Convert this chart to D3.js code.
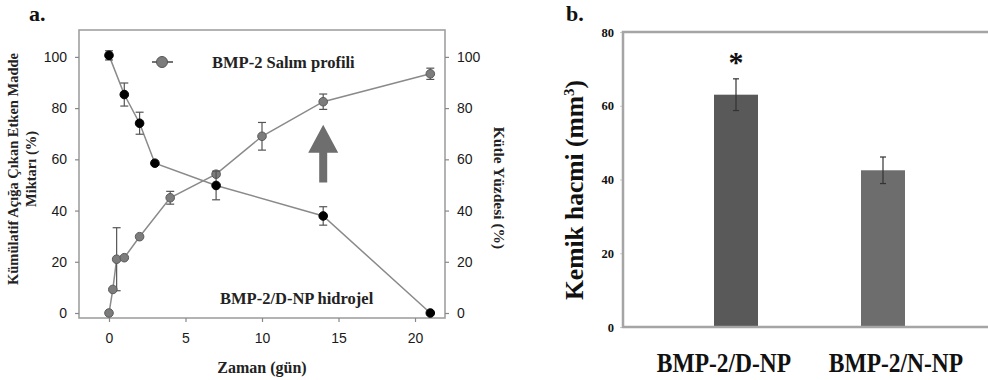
<!DOCTYPE html>
<html>
<head>
<meta charset="utf-8">
<script src="https://cdn.jsdelivr.net/npm/d3@7"></script>
<style>
  body { margin: 0; background: #fff; }
  svg { display: block; }
  .serif { font-family: "Liberation Serif", "Times New Roman", serif; font-weight: bold; }
  .sans { font-family: "Liberation Sans", Arial, sans-serif; }
</style>
</head>
<body>
<div id="chart"></div>
<script>
// panel a: BMP-2 release and hydrogel mass
const releaseDays = [0, 0.25, 0.5, 1, 2, 4, 7, 10, 14, 21];
const releaseVals = [0, 9.2, 21, 21.6, 29.8, 45, 54.2, 69, 82.5, 93.4];
const releaseErr  = [0, 0, 12.3, 0, 0, 2.5, 0.8, 5.4, 3, 2.2];

const massDays = [0, 1, 2, 3, 7, 14, 21];
const massVals = [100.6, 85.3, 74.1, 58.5, 49.8, 37.9, 0];
const massErr  = [1.8, 4.5, 4.3, 0, 5.6, 3.6, 0];

const dayTicks = [0, 5, 10, 15, 20];
const pctTicks = [0, 20, 40, 60, 80, 100];

// panel b: bone volume
const groups = ["BMP-2/D-NP", "BMP-2/N-NP"];
const boneVals = [63, 42.5];
const boneErr = [4.3, 3.6];
const boneTicks = [0, 20, 40, 60, 80];

const W = 988, H = 380;
const svg = d3.select("#chart").append("svg")
    .attr("width", W)
    .attr("height", H);

// ---------- panel a ----------
let x = d3.scaleLinear().domain([-1.96, 21.96]).range([79, 445]);
let y = d3.scaleLinear().domain([-1.95, 110.5]).range([318, 30]);

let axisColor = "#a0a0a0";
let lineColor = "#8a8a8a";

let ga = svg.append("g");

// frame
ga.append("rect")
    .attr("x", x.range()[0]).attr("y", y.range()[1])
    .attr("width", x.range()[1] - x.range()[0])
    .attr("height", y.range()[0] - y.range()[1])
    .attr("fill", "none").attr("stroke", axisColor).attr("stroke-width", 1.6);

let styleAxis = function(g) {
  g.select(".domain").remove();
  g.selectAll(".tick line").attr("stroke", "#888").attr("stroke-width", 1.2);
  g.selectAll(".tick text")
    .attr("class", "sans")
    .attr("font-size", 14)
    .attr("fill", "#1a1a1a");
};

ga.append("g")
    .attr("transform", "translate(" + x.range()[0] + ",0)")
    .call(d3.axisLeft(y).tickValues(pctTicks).tickSize(4).tickPadding(8))
    .call(styleAxis);

ga.append("g")
    .attr("transform", "translate(" + x.range()[1] + ",0)")
    .call(d3.axisRight(y).tickValues(pctTicks).tickSize(4).tickPadding(8))
    .call(styleAxis);

ga.append("g")
    .attr("transform", "translate(0," + y.range()[0] + ")")
    .call(d3.axisBottom(x).tickValues(dayTicks).tickSize(4).tickPadding(11))
    .call(styleAxis);

let line = d3.line().x(d => x(d[0])).y(d => y(d[1]));

function series(days, vals, errs, fill, stroke) {
  let pts = days.map((d, i) => [d, vals[i], errs[i]]);
  ga.append("path")
    .datum(pts)
    .attr("d", line)
    .attr("fill", "none")
    .attr("stroke", lineColor)
    .attr("stroke-width", 1.5);

  let eb = ga.append("g").selectAll("g")
    .data(pts.filter(p => p[2] > 0))
    .enter().append("g")
    .attr("stroke", "#555").attr("stroke-width", 1.2);
  eb.append("line")
    .attr("x1", d => x(d[0])).attr("x2", d => x(d[0]))
    .attr("y1", d => y(d[1] - d[2])).attr("y2", d => y(d[1] + d[2]));
  eb.append("line")
    .attr("x1", d => x(d[0]) - 4).attr("x2", d => x(d[0]) + 4)
    .attr("y1", d => y(d[1] + d[2])).attr("y2", d => y(d[1] + d[2]));
  eb.append("line")
    .attr("x1", d => x(d[0]) - 4).attr("x2", d => x(d[0]) + 4)
    .attr("y1", d => y(d[1] - d[2])).attr("y2", d => y(d[1] - d[2]));

  ga.append("g").selectAll("circle")
    .data(pts)
    .enter().append("circle")
    .attr("cx", d => x(d[0]))
    .attr("cy", d => y(d[1]))
    .attr("r", 4.3)
    .attr("fill", fill)
    .attr("stroke", stroke)
    .attr("stroke-width", 1);
}

series(releaseDays, releaseVals, releaseErr, "#7c7c7c", "#5a5a5a");
series(massDays, massVals, massErr, "#000", "#000");

// legend
ga.append("line")
    .attr("x1", 152).attr("x2", 173).attr("y1", 62).attr("y2", 62)
    .attr("stroke", "#444").attr("stroke-width", 1.5);
ga.append("circle")
    .attr("cx", 162).attr("cy", 62).attr("r", 5.5)
    .attr("fill", "#7c7c7c").attr("stroke", "#555");
ga.append("text").attr("class", "serif")
    .attr("x", 212).attr("y", 67.5)
    .attr("font-size", 16.5).attr("fill", "#222")
    .text("BMP-2 Salım profili");

ga.append("text").attr("class", "serif")
    .attr("x", 220).attr("y", 304)
    .attr("font-size", 16.5).attr("fill", "#222")
    .text("BMP-2/D-NP hidrojel");

// arrow
let ax = x(14), aBot = y(51), aTop = y(73.5);
ga.append("path")
    .attr("d", "M" + (ax - 4) + "," + aBot + "V" + (aTop + 28) + "H" + (ax - 15) +
      "L" + ax + "," + aTop + "L" + (ax + 15) + "," + (aTop + 28) + "H" + (ax + 4) + "V" + aBot + "Z")
    .attr("fill", "#6e6e6e");

// titles
ga.append("text").attr("class", "serif")
    .attr("transform", "translate(18,169) rotate(-90)")
    .attr("text-anchor", "middle").attr("font-size", 14.5).attr("fill", "#222")
    .text("Kümülatif Açığa Çıkan Etken Madde");
ga.append("text").attr("class", "serif")
    .attr("transform", "translate(36,169) rotate(-90)")
    .attr("text-anchor", "middle").attr("font-size", 14.5).attr("fill", "#222")
    .text("Miktarı (%)");
ga.append("text").attr("class", "serif")
    .attr("transform", "translate(494,188) rotate(90)")
    .attr("text-anchor", "middle").attr("font-size", 15.5).attr("fill", "#222")
    .text("Kütle Yüzdesi (%)");
ga.append("text").attr("class", "serif")
    .attr("x", 262).attr("y", 373)
    .attr("text-anchor", "middle").attr("font-size", 16).attr("fill", "#222")
    .text("Zaman (gün)");
ga.append("text").attr("class", "serif")
    .attr("x", 29).attr("y", 21)
    .attr("font-size", 22).attr("fill", "#111")
    .text("a.");

// ---------- panel b ----------
let xb = d3.scalePoint().domain(groups).range([736, 883]);
let yb = d3.scaleLinear().domain([0, 80]).range([327, 32]);
let barW = 44;
let labelShift = [-12, 13];
let gb = svg.append("g");

gb.append("g")
    .attr("transform", "translate(623,0)")
    .call(d3.axisLeft(yb).tickValues(boneTicks).tickSize(3).tickPadding(6))
    .call(g => {
      g.select(".domain").remove();
      g.selectAll(".tick line").attr("stroke", "#ccc");
      g.selectAll(".tick text").attr("class", "serif").attr("font-size", 12.5).attr("fill", "#111");
    });

gb.selectAll("rect.bar")
    .data(groups)
    .enter().append("rect")
    .attr("class", "bar")
    .attr("x", d => xb(d) - barW / 2)
    .attr("y", (d, i) => yb(boneVals[i]))
    .attr("width", barW)
    .attr("height", (d, i) => yb(0) - yb(boneVals[i]))
    .attr("fill", (d, i) => i === 0 ? "#595959" : "#6d6d6d");

let eg = gb.selectAll("g.err")
    .data(groups)
    .enter().append("g")
    .attr("class", "err")
    .attr("stroke", "#333").attr("stroke-width", 1.2);
eg.append("line")
    .attr("x1", d => xb(d)).attr("x2", d => xb(d))
    .attr("y1", (d, i) => yb(boneVals[i] - boneErr[i]))
    .attr("y2", (d, i) => yb(boneVals[i] + boneErr[i]));
eg.append("line")
    .attr("x1", d => xb(d) - 3).attr("x2", d => xb(d) + 3)
    .attr("y1", (d, i) => yb(boneVals[i] + boneErr[i]))
    .attr("y2", (d, i) => yb(boneVals[i] + boneErr[i]));
eg.append("line")
    .attr("x1", d => xb(d) - 3).attr("x2", d => xb(d) + 3)
    .attr("y1", (d, i) => yb(boneVals[i] - boneErr[i]))
    .attr("y2", (d, i) => yb(boneVals[i] - boneErr[i]));

// axis frame lines (left, bottom, top)
gb.append("path")
    .attr("d", "M" + W + "," + yb(80) + "H623V" + yb(0) + "H" + W)
    .attr("fill", "none").attr("stroke", "#a5a5a5").attr("stroke-width", 2.5);

gb.append("text").attr("class", "serif")
    .attr("x", xb(groups[0])).attr("y", yb(73.2) + 15)
    .attr("text-anchor", "middle").attr("font-size", 30).attr("fill", "#111")
    .text("*");

gb.selectAll("text.cat")
    .data(groups)
    .enter().append("text")
    .attr("class", "serif cat")
    .attr("transform", (d, i) => "translate(" + (xb(d) + labelShift[i]) + ",372) scale(1,1.2)")
    .attr("text-anchor", "middle").attr("font-size", 23.5).attr("fill", "#111")
    .text(d => d);

gb.append("text").attr("class", "serif")
    .attr("transform", "translate(583,190) rotate(-90)")
    .attr("text-anchor", "middle").attr("font-size", 25.5).attr("fill", "#111")
    .html("Kemik hacmi (mm<tspan dy='-9' font-size='15'>3</tspan><tspan dy='9'>)</tspan>");

gb.append("text").attr("class", "serif")
    .attr("x", 566).attr("y", 21)
    .attr("font-size", 22).attr("fill", "#111")
    .text("b.");
</script>
</body>
</html>
